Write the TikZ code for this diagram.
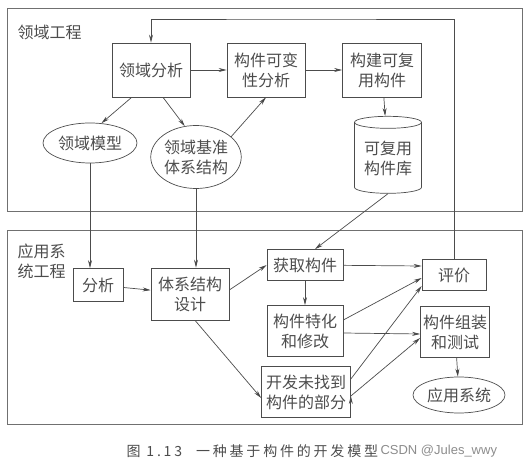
\documentclass[tikz,border=0pt]{standalone}
\usepackage{fontspec}
\setmainfont{Noto Sans CJK SC}
\newfontfamily\markfont{Liberation Sans}
\usepackage{xcolor}
\usepackage{tikz}
\usetikzlibrary{shapes.geometric, arrows.meta, positioning}

\definecolor{ink}{gray}{0.3}
\tikzset{
    box/.style={draw=ink, rectangle, align=center, inner sep=0pt, text=ink, line width=0.7pt},
    oval/.style={draw=ink, ellipse, align=center, inner sep=0pt, text=ink, line width=0.7pt},
    frame/.style={draw=ink!80, line width=0.7pt},
    lnk/.style={-{Stealth[length=8pt,width=4pt]}, draw=ink, line width=0.7pt},
}

\begin{document}
\begin{tikzpicture}[x=1pt, y=-1pt, font=\fontsize{16}{20}\selectfont]
        \useasboundingbox (0,0) rectangle (528,470);
        \draw[frame] (7,8) rectangle (522,211);
        \draw[frame] (7,230) rectangle (522,424);
        \node[anchor=west, text=ink] (lygc) at (14,32) {领域工程};
        \node[anchor=west, text=ink, align=left] (yygc) at (14,261) {应用系\\统工程};
%
        \node[box, minimum width=78pt, minimum height=54pt] (lyfx) at (151,70) {领域分析};
        \node[box, minimum width=78pt, minimum height=54pt] (kbx) at (266,70) {构件可变\\性分析};
        \node[box, minimum width=79pt, minimum height=54pt] (gjkf) at (382,70) {构建可复\\用构件};
        \node[draw=ink, cylinder, shape border rotate=90, aspect=0.25, align=center,
              inner sep=0pt, text=ink, line width=0.7pt,
              minimum width=67pt, minimum height=77pt] (kfy) at (388,158) {可复用\\构件库};
        \node[oval, minimum width=94pt, minimum height=40pt] (lymx) at (90,143) {领域模型};
        \node[oval, minimum width=88pt, minimum height=63pt] (jzjg) at (196,157) {领域基准\\体系结构};
%
        \node[box, minimum width=50pt, minimum height=33pt] (fx) at (98,285) {分析};
        \node[box, minimum width=78pt, minimum height=52pt] (txsj) at (190,294) {体系结构\\设计};
        \node[box, minimum width=76pt, minimum height=31pt] (hqgj) at (305,265) {获取构件};
        \node[box, minimum width=76pt, minimum height=51pt] (thxg) at (305,331) {构件特化\\和修改};
        \node[box, minimum width=89pt, minimum height=51pt] (kfwz) at (306,392) {开发未找到\\构件的部分};
        \node[box, minimum width=64pt, minimum height=31pt] (pj) at (454,275) {评价};
        \node[box, minimum width=69pt, minimum height=51pt] (zzcs) at (455,332) {构件组装\\和测试};
        \node[oval, minimum width=92pt, minimum height=36pt] (yyxt) at (459,395) {应用系统};
        \coordinate (fb) at (300,19);
%
        \node[anchor=west, text=ink, font=\fontsize{14}{16}\selectfont\addfontfeature{LetterSpace=20}]
            (cap) at (123,451) {图 1.13\quad 一种基于构件的开发模型};
        \node[anchor=west, text=black!45, font=\markfont\fontsize{13}{15}\selectfont]
            (mark) at (377,451) {CSDN @Jules\_wwy};
%
        \path[lnk]
        (lyfx) edge (kbx)
        (kbx) edge (gjkf)
        (gjkf) edge (kfy)
        (lyfx.south west) ++(20,0) edge (lymx.60)
        (lyfx.south) ++(12,0) edge (jzjg.110)
        (jzjg.30) edge (kbx.south)
        (lymx.south) edge (lymx.south |- fx.north)
        (jzjg.south) edge (jzjg.south |- txsj.north)
        (kfy.south) edge ([xshift=10pt]hqgj.north)
        (fx) edge (txsj)
        ([yshift=4pt]txsj.east) edge (hqgj.west)
        ([xshift=5pt]txsj.south) edge ([yshift=-6pt]kfwz.west)
        (hqgj) edge (thxg)
        (hqgj) edge ([yshift=9pt]pj.west)
        ([yshift=11pt]thxg.east) edge ([yshift=-3pt]pj.west)
        ([yshift=-2pt]thxg.east) edge ([yshift=-2pt]zzcs.west)
        ([yshift=13pt]kfwz.east) edge ([yshift=-11pt]pj.west)
        ([yshift=-4pt]kfwz.east) edge ([yshift=-6pt]zzcs.west)
        (zzcs) edge (yyxt);
        %feedback
        \draw[lnk] (pj.north) |- (fb) -| (lyfx.north);
\end{tikzpicture}
\end{document}
